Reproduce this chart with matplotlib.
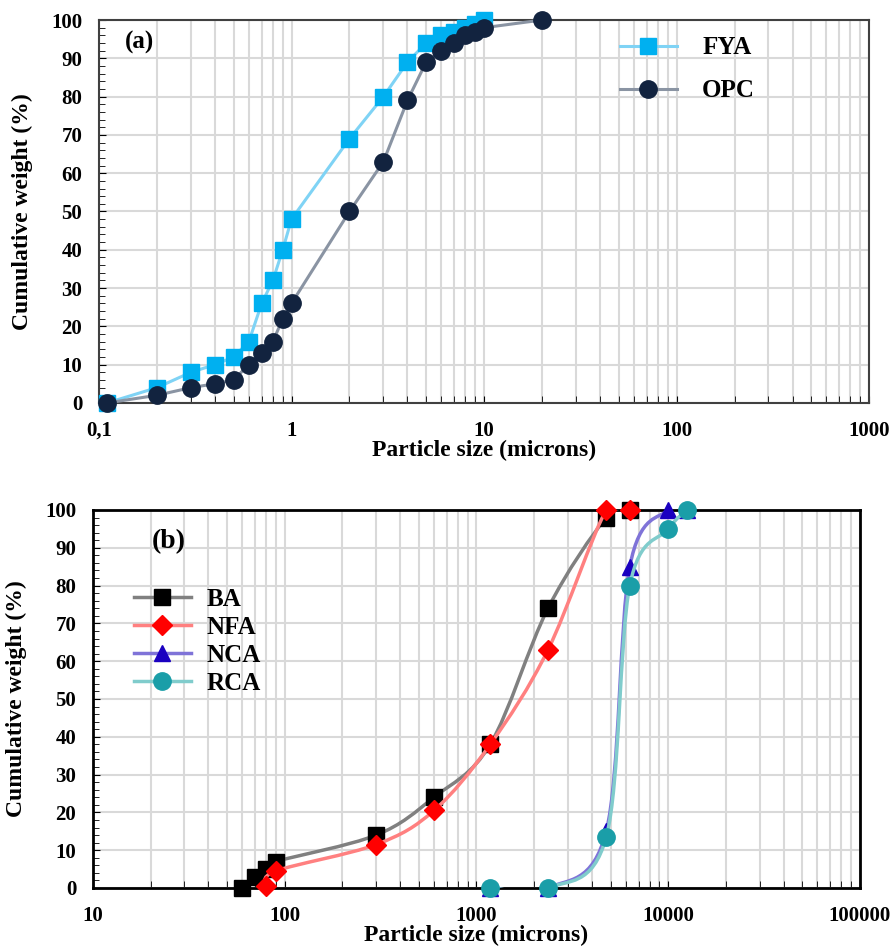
import numpy as np
import matplotlib
matplotlib.use('Agg')
import matplotlib.pyplot as plt
from matplotlib.path import Path
from matplotlib.patches import PathPatch
from matplotlib.lines import Line2D
from matplotlib.ticker import FixedLocator, MultipleLocator, LogLocator, NullFormatter

plt.rcParams['font.family'] = ['Liberation Serif', 'DejaVu Serif']
plt.rcParams['font.weight'] = 'bold'

# ---- panel (a) data ----
fya_x = [0.11, 0.2, 0.3, 0.4, 0.5, 0.6, 0.7, 0.8, 0.9, 1, 2, 3, 4, 5, 6, 7, 8, 9, 10]
fya_y = [0, 4, 8, 10, 12, 16, 26, 32, 40, 48, 69, 80, 89, 94, 96, 97, 98, 99, 100]
opc_x = [0.11, 0.2, 0.3, 0.4, 0.5, 0.6, 0.7, 0.8, 0.9, 1, 2, 3, 4, 5, 6, 7, 8, 9, 10, 20]
opc_y = [0, 2, 4, 5, 6, 10, 13, 16, 22, 26, 50, 63, 79, 89, 92, 94, 96, 97, 98, 100]

# ---- panel (b) data ----
ba_x = [60, 70, 80, 90, 300, 600, 1180, 2360, 4750, 6300]
ba_y = [0, 3, 5, 7, 14, 24, 38, 74, 98, 100]
nfa_x = [80, 90, 300, 600, 1180, 2360, 4750, 6300]
nfa_y = [0.5, 4.5, 11.5, 20.5, 38, 63, 100, 100]
nca_x = [1180, 2360, 4750, 6300, 10000, 12500]
nca_y = [0, 0, 15, 85, 100, 100]
rca_x = [1180, 2360, 4750, 6300, 10000, 12500]
rca_y = [0, 0, 13.5, 80, 95, 100]

ticks_a = [0.1, 1, 10, 100, 1000]
ticklabels_a = ['0,1', '1', '10', '100', '1000']
ticks_b = [10, 100, 1000, 10000, 100000]
ticklabels_b = ['10', '100', '1000', '10000', '100000']

GRID = '#d9d9d9'


def smooth_path(xs, ys):
    """Excel-like smoothed line: Catmull-Rom Bezier in (log x, y) space."""
    lx = np.log10(np.asarray(xs, float))
    y = np.asarray(ys, float)
    n = len(lx)
    verts = [(xs[0], ys[0])]
    codes = [Path.MOVETO]
    for i in range(n - 1):
        i0 = max(i - 1, 0)
        i3 = min(i + 2, n - 1)
        c1x = lx[i] + (lx[i + 1] - lx[i0]) / 6
        c1y = y[i] + (y[i + 1] - y[i0]) / 6
        c2x = lx[i + 1] - (lx[i3] - lx[i]) / 6
        c2y = y[i + 1] - (y[i3] - y[i]) / 6
        verts += [(10 ** c1x, c1y), (10 ** c2x, c2y), (xs[i + 1], ys[i + 1])]
        codes += [Path.CURVE4] * 3
    return Path(verts, codes)


def style_axes(ax, xmin, xmax, ticks, labels, spine_color, spine_w):
    ax.set_xscale('log')
    ax.set_xlim(xmin, xmax)
    ax.set_ylim(0, 100)
    ax.xaxis.set_major_locator(FixedLocator(ticks))
    ax.set_xticks(ticks)
    ax.set_xticklabels(labels)
    ax.xaxis.set_minor_locator(LogLocator(base=10, subs=np.arange(2, 10), numticks=20))
    ax.xaxis.set_minor_formatter(NullFormatter())
    ax.yaxis.set_major_locator(MultipleLocator(10))
    ax.yaxis.set_minor_locator(MultipleLocator(2))
    ax.grid(True, which='major', axis='both', color=GRID, linewidth=1.5)
    ax.grid(True, which='minor', axis='x', color=GRID, linewidth=1.5)
    ax.set_axisbelow(True)
    ax.tick_params(axis='both', which='both', direction='in', labelsize=15)
    ax.tick_params(axis='y', which='both', pad=12)
    ax.tick_params(axis='x', which='both', pad=13)
    ax.tick_params(axis='y', which='major', length=5)
    ax.tick_params(axis='y', which='minor', length=4)
    ax.tick_params(axis='x', which='both', length=5, top=False)
    for s in ax.spines.values():
        s.set_color(spine_color)
        s.set_linewidth(spine_w)
    for t in ax.get_xticklabels() + ax.get_yticklabels():
        t.set_fontweight('bold')
    ax.set_xlabel('Particle size (microns)', fontsize=17, fontweight='bold', labelpad=-1)
    ax.set_ylabel('Cumulative weight (%)', fontsize=17, fontweight='bold', labelpad=13)


fig = plt.figure(figsize=(8.96, 9.49), dpi=100)
ax_a = fig.add_axes([0.1105, 0.5754, 0.8595, 0.4035])
ax_b = fig.add_axes([0.1038, 0.0643, 0.856, 0.3983])

# ---- panel (a) ----
style_axes(ax_a, 0.1, 1000, ticks_a, ticklabels_a, '#404040', 1.5)
ax_a.plot(fya_x, fya_y, color='#7fd3f5', linewidth=2.2, marker='s', markersize=12,
          markerfacecolor='#00b0f0', markeredgecolor='#00b0f0', clip_on=False, zorder=3, label='FYA')
ax_a.plot(opc_x, opc_y, color='#8a94a3', linewidth=2.2, marker='o', markersize=12.5,
          markerfacecolor='#12233f', markeredgecolor='#12233f', clip_on=False, zorder=4, label='OPC')
ax_a.text(0.033, 0.925, '(a)', transform=ax_a.transAxes, fontsize=18, fontweight='bold')
ax_a.legend(loc='upper left', bbox_to_anchor=(0.655, 1.0), frameon=False, fontsize=18,
            handlelength=2.3, handletextpad=1.0, labelspacing=0.8, borderaxespad=0.25)

# ---- panel (b) ----
style_axes(ax_b, 10, 100000, ticks_b, ticklabels_b, 'black', 2.0)
series_b = [
    (ba_x, ba_y, '#808080', 's', '#000000', 12, 'BA'),
    (nfa_x, nfa_y, '#ff8080', 'D', '#ff0000', 10, 'NFA'),
    (nca_x, nca_y, '#7f73d8', '^', '#1a00c0', 12, 'NCA'),
    (rca_x, rca_y, '#80cccc', 'o', '#1a9ea8', 12.5, 'RCA'),
]
handles = []
for i, (xs, ys, lc, mk, mc, ms, lab) in enumerate(series_b):
    patch = PathPatch(smooth_path(xs, ys), facecolor='none', edgecolor=lc, linewidth=2.5,
                      zorder=3 + 2 * i)
    ax_b.add_patch(patch)
    ax_b.plot(xs, ys, linestyle='none', marker=mk, markersize=ms, markerfacecolor=mc,
              markeredgecolor=mc, clip_on=False, zorder=4 + 2 * i)
    handles.append(Line2D([], [], color=lc, linewidth=2.5, marker=mk, markersize=ms,
                          markerfacecolor=mc, markeredgecolor=mc, label=lab))
ax_b.text(0.077, 0.9, '(b)', transform=ax_b.transAxes, fontsize=20, fontweight='bold')
ax_b.legend(handles=handles, loc='upper left', bbox_to_anchor=(0.04, 0.82), frameon=False,
            fontsize=18, handlelength=2.3, handletextpad=0.6, labelspacing=0.2, borderaxespad=0.0)

fig.savefig('out.png', dpi=100)
